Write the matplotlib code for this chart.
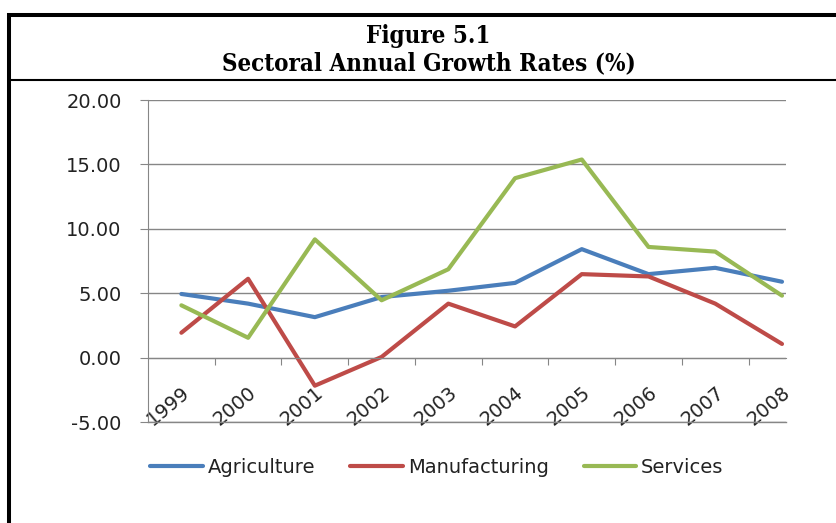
import matplotlib
matplotlib.use('Agg')
import matplotlib.pyplot as plt
from matplotlib.lines import Line2D
from matplotlib.ticker import FormatStrFormatter

# dados
anos = ['1999', '2000', '2001', '2002', '2003', '2004', '2005', '2006', '2007', '2008']
agricultura = [4.94, 4.19, 3.14, 4.70, 5.19, 5.80, 8.42, 6.48, 6.97, 5.89]
manufatura = [1.93, 6.12, -2.18, 0.05, 4.19, 2.42, 6.48, 6.30, 4.19, 1.06]
servicos = [4.06, 1.54, 9.18, 4.45, 6.86, 13.93, 15.38, 8.59, 8.23, 4.81]
series = ['Agriculture', 'Manufacturing', 'Services']
cores = ['#4A7EBB', '#BE4B48', '#98B954']

plt.rcParams['axes.unicode_minus'] = False
plt.rcParams['font.family'] = ['DejaVu Sans']

fig = plt.figure(figsize=(8.37, 5.23), dpi=100)
ax = fig.add_axes([148 / 837, 1 - 422 / 523, (786 - 148) / 837, (422 - 100) / 523])

x = list(range(len(anos)))
for valores, nome, cor in zip([agricultura, manufatura, servicos], series, cores):
    ax.plot(x, valores, color=cor, lw=3, label=nome, solid_capstyle='round', solid_joinstyle='round')

cinza = '#868686'
ax.set_ylim(-5, 20)
ax.set_xlim(-0.5, 9.06)
ax.set_yticks([-5, 0, 5, 10, 15, 20])
ax.yaxis.set_major_formatter(FormatStrFormatter('%.2f'))
ax.grid(axis='y', color=cinza, lw=1)
ax.axhline(-5, color=cinza, lw=1, clip_on=False)
ax.set_axisbelow(True)

for lado in ['top', 'right']:
    ax.spines[lado].set_visible(False)
ax.spines['left'].set_color(cinza)
ax.spines['bottom'].set_color(cinza)
ax.spines['bottom'].set_position(('data', 0))

ax.tick_params(axis='y', length=6, color=cinza, labelsize=14, pad=13, labelcolor='#222222')

# marcas entre categorias, rotulos nas categorias
ax.set_xticks([i + 0.5 for i in range(len(anos) - 1)])
ax.set_xticklabels([])
ax.tick_params(axis='x', which='major', length=5, color=cinza)
ax.set_xticks(x, minor=True)
ax.set_xticklabels(anos, minor=True, rotation=40, ha='right', rotation_mode='anchor')
ax.tick_params(axis='x', which='minor', length=0, labelsize=14, pad=18, labelcolor='#222222')

fig.legend(loc='center', bbox_to_anchor=(0.522, 0.1057), ncol=3, frameon=False,
           fontsize=14, handlelength=2.7, handletextpad=0.25, columnspacing=1.8,
           labelcolor='#222222')

# titulo e moldura
for texto, base in [('Figure 5.1', 43), ('Sectoral Annual Growth Rates (%)', 70)]:
    fig.text(0.512, 1 - base / 523, texto, ha='center', va='baseline',
             family='DejaVu Serif', weight='bold', fontstretch='condensed', fontsize=17.3)

fig.add_artist(Line2D([7 / 837, 1], [1 - 14.7 / 523] * 2, color='black', lw=2.9,
                      transform=fig.transFigure, solid_capstyle='butt'))
fig.add_artist(Line2D([9.3 / 837] * 2, [0, 1 - 13 / 523], color='black', lw=2.9,
                      transform=fig.transFigure, solid_capstyle='butt'))
fig.add_artist(Line2D([9 / 837, 1], [1 - 80 / 523] * 2, color='black', lw=1.5,
                      transform=fig.transFigure, solid_capstyle='butt'))

fig.savefig('out.png', dpi=100)
